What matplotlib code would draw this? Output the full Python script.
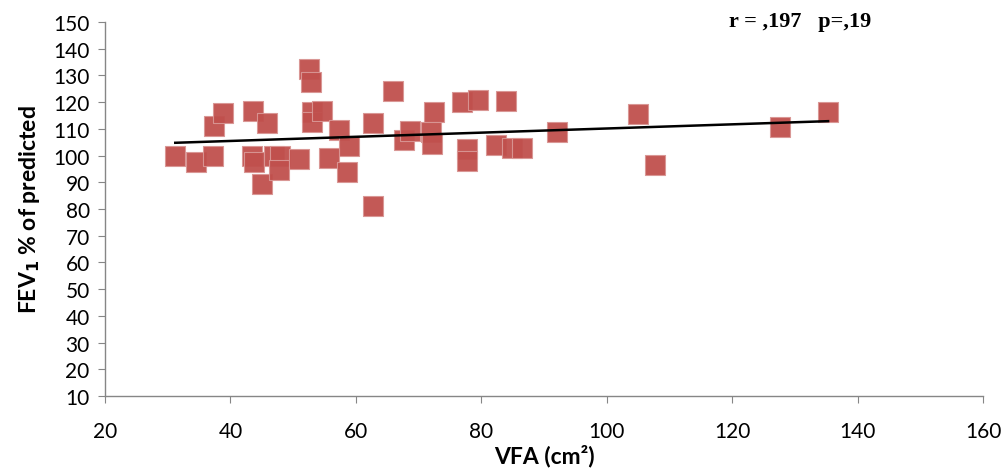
import matplotlib
matplotlib.use("Agg")
import matplotlib.pyplot as plt
import numpy as np

vfa = [31.2, 34.5, 37.4, 37.2, 38.8, 43.6, 45.8, 43.4, 43.8, 45.0,
       47.0, 47.9, 47.8, 50.9, 52.5, 52.9, 53.0, 53.0, 54.6, 57.3,
       58.9, 55.7, 58.6, 62.7, 62.7, 65.9, 67.7, 68.6, 72.5, 72.0,
       72.1, 76.9, 79.5, 77.7, 77.7, 83.9, 82.4, 84.9, 86.5, 92.1,
       105.0, 107.7, 127.6, 135.3]
fev1 = [99.8, 97.6, 111.1, 99.8, 115.9, 116.7, 112.2, 99.8, 97.6, 89.4,
        99.8, 99.8, 94.6, 98.7, 132.4, 127.5, 116.3, 112.6, 116.7, 109.6,
        103.6, 99.1, 93.8, 112.2, 81.1, 124.2, 105.8, 109.2, 116.3, 108.8,
        104.3, 120.1, 120.8, 102.5, 98.0, 120.4, 104.0, 102.8, 102.8, 108.8,
        115.6, 96.5, 110.7, 116.3]

x = np.array(vfa)
y = np.array(fev1)
slope, intercept = np.polyfit(x, y, 1)
xl = np.array([x.min(), x.max()])

fig = plt.figure(figsize=(10.06, 4.77), dpi=100)
ax = fig.add_axes([0.1044, 0.1677, 0.8727, 0.7841])

ax.scatter(x, y, marker="s", s=215, facecolor="#C0504D", edgecolor="#D99694",
           linewidths=0.8, alpha=0.95, zorder=2)
ax.plot(xl, slope * xl + intercept, color="black", lw=1.8, zorder=3)

ax.set_xlim(20, 160)
ax.set_ylim(10, 150)
ax.set_xticks(np.arange(20, 161, 20))
ax.set_yticks(np.arange(10, 151, 10))

for side in ["top", "right"]:
    ax.spines[side].set_visible(False)
for side in ["left", "bottom"]:
    ax.spines[side].set_color("#868686")
    ax.spines[side].set_linewidth(1.0)
ax.tick_params(direction="out", length=5, color="#868686", labelsize=15,
               labelcolor="black")
ax.tick_params(axis="x", pad=13)
ax.tick_params(axis="y", pad=6)
for lab in ax.get_xticklabels() + ax.get_yticklabels():
    lab.set_family("Lato")

ax.set_xlabel("VFA (cm²)", fontsize=16.5, fontweight="bold", family="Lato", labelpad=2)
ax.set_ylabel("FEV$_\\mathbf{1}$ % of predicted", fontsize=16.5, fontweight="bold",
              family="Lato", labelpad=8)

fig.text(0.725, 0.953, "r = ,197   p=,19", fontsize=16, fontweight="bold",
         family="Liberation Serif", ha="left", va="center")

fig.savefig("out.png", dpi=100, facecolor="white")
